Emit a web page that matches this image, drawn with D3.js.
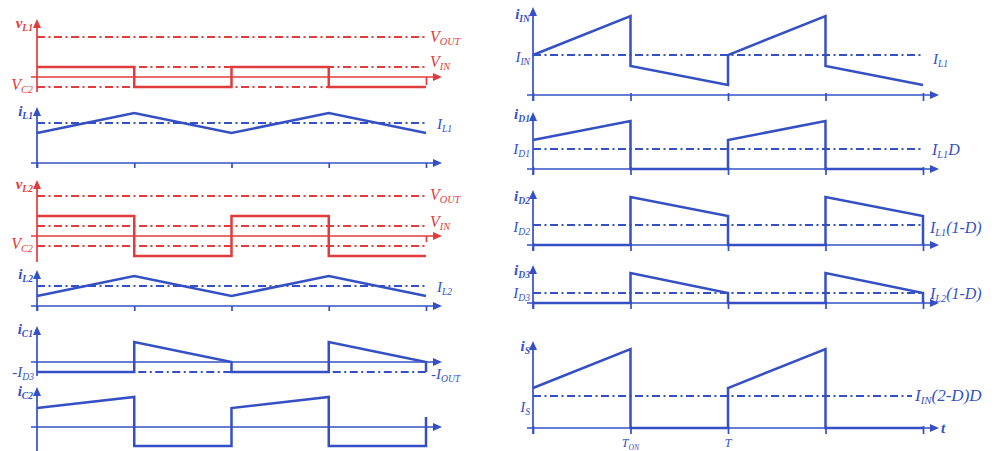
<!DOCTYPE html>
<html>
<head>
<meta charset="utf-8">
<script src="https://cdn.jsdelivr.net/npm/d3@7"></script>
<style>
  html, body { margin: 0; padding: 0; background: #fff; }
  svg { display: block; }
  text { font-family: "Liberation Serif", "DejaVu Serif", serif; font-style: italic; }
</style>
</head>
<body>
<svg id="chart" width="1000" height="451"></svg>
<script>
// ---- waveform data (time in quarter-periods, amplitude in arbitrary units) ----
const timeTicks = [0, 1, 2, 3, 4];

const vL1_t = [0, 1, 1, 2, 2, 3, 3, 4];
const vL1_v = [1, 1, -1, -1, 1, 1, -1, -1];
const vL1_refs = [4, 1, -1];

const iL1_t = [0, 1, 2, 3, 4];
const iL1_v = [3, 5, 3, 5, 3];
const iL1_refs = [4];

const vL2_t = [0, 1, 1, 2, 2, 3, 3, 4];
const vL2_v = [2, 2, -2, -2, 2, 2, -2, -2];
const vL2_refs = [4, 1, -1];

const iL2_t = [0, 1, 2, 3, 4];
const iL2_v = [1, 3, 1, 3, 1];
const iL2_refs = [2];

const iC1_t = [0, 1, 1, 2, 2, 3, 3, 4, 4];
const iC1_v = [-1, -1, 2, 0, -1, -1, 2, 0, -1];
const iC1_refs = [-1];

const iC2_t = [0, 1, 1, 2, 2, 3, 3, 4, 4];
const iC2_v = [1.9, 3, -1.9, -1.9, 1.9, 3, -1.9, -1.9, 1];

const iIN_t = [0, 1, 1, 2, 2, 3, 3, 4];
const iIN_v = [4, 7.9, 2.9, 1, 4, 7.9, 2.9, 1];
const iIN_refs = [4];

const iD1_t = [0, 1, 1, 2, 2, 3, 3, 4];
const iD1_v = [2.9, 4.8, 0, 0, 2.9, 4.8, 0, 0];
const iD1_refs = [2];

const iD2_t = [0, 1, 1, 2, 2, 3, 3, 4, 4];
const iD2_v = [0, 0, 4.8, 2.9, 0, 0, 4.8, 2.9, 0];
const iD2_refs = [2];

const iD3_t = [0, 1, 1, 2, 2, 3, 3, 4, 4];
const iD3_v = [0, 0, 3, 1, 0, 0, 3, 1, 0];
const iD3_refs = [1];

const iS_t = [0, 1, 1, 2, 2, 3, 3, 4];
const iS_v = [4, 7.9, 0, 0, 4, 7.9, 0, 0];
const iS_refs = [3.2];

const timeLabels = ["T_{ON}", "T"];

// ---- layout & styling ----
const RED = "#e03c3c";
const BLUE = "#3550c4";
const svg = d3.select("#chart");

const xLeft = d3.scaleLinear().domain([0, 4]).range([37, 426]);
const xRight = d3.scaleLinear().domain([0, 4]).range([533, 923]);

// text with "_{...}" subscripts
function richText(g, str, x, y, opts) {
  const t = g.append("text")
    .attr("x", x).attr("y", y)
    .attr("fill", opts.color)
    .attr("font-size", opts.size)
    .attr("font-weight", opts.weight || "normal")
    .attr("text-anchor", opts.anchor || "start");
  const parts = [];
  const re = /_\{([^}]*)\}/g;
  let last = 0, m;
  while ((m = re.exec(str)) !== null) {
    if (m.index > last) parts.push({ s: str.slice(last, m.index), sub: false });
    parts.push({ s: m[1], sub: true });
    last = re.lastIndex;
  }
  if (last < str.length) parts.push({ s: str.slice(last), sub: false });
  let shift = 0;
  parts.forEach(p => {
    const target = p.sub ? 3 : 0;
    const ts = t.append("tspan").text(p.s).attr("font-size", p.sub ? opts.size * 0.64 : opts.size);
    if (target !== shift) ts.attr("dy", target - shift);
    shift = target;
  });
  return t;
}

function dashRef(g, xa, xb, yy, color) {
  g.append("line")
    .attr("x1", xa).attr("x2", xb)
    .attr("y1", yy).attr("y2", yy)
    .attr("stroke", color).attr("stroke-width", 1.8)
    .attr("stroke-dasharray", "8,3.5,2,3.5");
}

function panel(cfg) {
  const { x, zeroY, unit, color, t, v, refs, yTop, yBot } = cfg;
  const y = d3.scaleLinear().domain([0, 1]).range([zeroY, zeroY - unit]);
  const g = svg.append("g");
  const x0 = x.range()[0], x1 = x.range()[1];

  // reference (dash-dot) levels
  (refs || []).forEach(r => dashRef(g, x0, cfg.refEnd || x1, y(r), color));

  // time axis with ticks
  const axis = d3.axisBottom(x).tickValues(cfg.ticks || []).tickSize(cfg.tickSize || 5)
    .tickSizeOuter(0).tickFormat("");
  const ax = g.append("g").attr("transform", `translate(0,${zeroY})`).call(axis);
  ax.select(".domain").remove();
  ax.selectAll(".tick line").attr("stroke", color).attr("stroke-width", 1.7)
    .attr("y1", cfg.tickUp ? -cfg.tickUp : 0);
  g.append("line").attr("x1", x0 - 6).attr("x2", x1 + 10)
    .attr("y1", zeroY).attr("y2", zeroY)
    .attr("stroke", color).attr("stroke-width", 1.7);
  g.append("path")
    .attr("d", `M${x1 + 16},${zeroY} L${x1 + 7},${zeroY - 4} L${x1 + 7},${zeroY + 4} Z`)
    .attr("fill", color);

  // vertical axis
  g.append("line").attr("x1", x0).attr("x2", x0)
    .attr("y1", yBot).attr("y2", yTop + 6)
    .attr("stroke", color).attr("stroke-width", 1.7);
  g.append("path")
    .attr("d", `M${x0},${yTop} L${x0 - 4},${yTop + 9} L${x0 + 4},${yTop + 9} Z`)
    .attr("fill", color);

  // waveform
  const pts = t.map((ti, i) => [x(ti), y(v[i])]);
  g.append("path")
    .attr("d", d3.line()(pts))
    .attr("fill", "none").attr("stroke", color)
    .attr("stroke-width", 2.5).attr("stroke-linejoin", "miter");

  // labels
  (cfg.labels || []).forEach(l => {
    richText(g, l.text, l.x, l.y, { color, size: l.size || 15, weight: l.weight, anchor: l.anchor });
  });
  return { g, y };
}

// ---- left column ----
panel({ x: xLeft, zeroY: 77, unit: 10, color: RED, t: vL1_t, v: vL1_v, refs: vL1_refs,
  yTop: 19, yBot: 92, ticks: [4], tickSize: 8,
  labels: [
    { text: "v_{L1}", x: 33, y: 28, anchor: "end", weight: "bold" },
    { text: "V_{OUT}", x: 430, y: 42, size: 16 },
    { text: "V_{IN}", x: 430, y: 67, size: 16 },
    { text: "V_{C2}", x: 33, y: 90, anchor: "end", size: 16 }
  ] });

panel({ x: xLeft, zeroY: 163, unit: 10, color: BLUE, t: iL1_t, v: iL1_v, refs: iL1_refs,
  yTop: 107, yBot: 168, ticks: timeTicks, tickSize: 5,
  labels: [
    { text: "i_{L1}", x: 33, y: 116, anchor: "end", weight: "bold" },
    { text: "I_{L1}", x: 437, y: 129 }
  ] });

panel({ x: xLeft, zeroY: 236, unit: 10, color: RED, t: vL2_t, v: vL2_v, refs: vL2_refs,
  yTop: 180, yBot: 262, ticks: [4], tickSize: 6,
  labels: [
    { text: "v_{L2}", x: 33, y: 189, anchor: "end", weight: "bold" },
    { text: "V_{OUT}", x: 430, y: 200, size: 16 },
    { text: "V_{IN}", x: 430, y: 227, size: 16 },
    { text: "V_{C2}", x: 33, y: 249, anchor: "end", size: 16 }
  ] });

panel({ x: xLeft, zeroY: 306, unit: 10, color: BLUE, t: iL2_t, v: iL2_v, refs: iL2_refs,
  yTop: 270, yBot: 311, ticks: timeTicks, tickSize: 5,
  labels: [
    { text: "i_{L2}", x: 33, y: 279, anchor: "end", weight: "bold" },
    { text: "I_{L2}", x: 437, y: 292 }
  ] });

// -I_OUT reference spans only the intervals where the waveform sits above it
const iC1 = panel({ x: xLeft, zeroY: 362, unit: 10, color: BLUE, t: iC1_t, v: iC1_v, refs: [],
  yTop: 326, yBot: 376, ticks: [], tickSize: 0,
  labels: [
    { text: "i_{C1}", x: 33, y: 334, anchor: "end", weight: "bold" },
    { text: "-I_{D3}", x: 34, y: 377, anchor: "end" },
    { text: "-I_{OUT}", x: 431, y: 379 }
  ] });
[[1, 2], [3, 4]].forEach(([a, b]) => {
  dashRef(iC1.g, xLeft(a) + 4, xLeft(b), iC1.y(iC1_refs[0]), BLUE);
});

panel({ x: xLeft, zeroY: 427, unit: 10, color: BLUE, t: iC2_t, v: iC2_v, refs: [],
  yTop: 387, yBot: 452, ticks: [], tickSize: 0,
  labels: [
    { text: "i_{C2}", x: 33, y: 396, anchor: "end", weight: "bold" }
  ] });

// ---- right column ----
panel({ x: xRight, zeroY: 95, unit: 10, color: BLUE, t: iIN_t, v: iIN_v, refs: iIN_refs,
  yTop: 7, yBot: 101, ticks: timeTicks, tickSize: 6, tickUp: 2, refEnd: 922,
  labels: [
    { text: "i_{IN}", x: 530, y: 19, anchor: "end", weight: "bold" },
    { text: "I_{IN}", x: 530, y: 62, anchor: "end" },
    { text: "I_{L1}", x: 933, y: 64 }
  ] });

panel({ x: xRight, zeroY: 169, unit: 10, color: BLUE, t: iD1_t, v: iD1_v, refs: iD1_refs,
  yTop: 112, yBot: 175, ticks: timeTicks, tickSize: 6, tickUp: 2, refEnd: 922,
  labels: [
    { text: "i_{D1}", x: 530, y: 119, anchor: "end", weight: "bold" },
    { text: "I_{D1}", x: 530, y: 154, anchor: "end" },
    { text: "I_{L1}D", x: 932, y: 155, size: 16 }
  ] });

panel({ x: xRight, zeroY: 245, unit: 10, color: BLUE, t: iD2_t, v: iD2_v, refs: iD2_refs,
  yTop: 190, yBot: 251, ticks: timeTicks, tickSize: 6, tickUp: 2, refEnd: 922,
  labels: [
    { text: "i_{D2}", x: 530, y: 201, anchor: "end", weight: "bold" },
    { text: "I_{D2}", x: 530, y: 232, anchor: "end" },
    { text: "I_{L1}(1-D)", x: 930, y: 233, size: 16 }
  ] });

panel({ x: xRight, zeroY: 303, unit: 10, color: BLUE, t: iD3_t, v: iD3_v, refs: iD3_refs,
  yTop: 265, yBot: 309, ticks: timeTicks, tickSize: 6, tickUp: 2, refEnd: 922,
  labels: [
    { text: "i_{D3}", x: 530, y: 275, anchor: "end", weight: "bold" },
    { text: "I_{D3}", x: 530, y: 298, anchor: "end" },
    { text: "I_{L2}(1-D)", x: 930, y: 299, size: 16 }
  ] });

const iS = panel({ x: xRight, zeroY: 428, unit: 10, color: BLUE, t: iS_t, v: iS_v, refs: iS_refs,
  yTop: 341, yBot: 434, ticks: timeTicks, tickSize: 6, tickUp: 2, refEnd: 912,
  labels: [
    { text: "i_{S}", x: 530, y: 351, anchor: "end", weight: "bold" },
    { text: "I_{S}", x: 530, y: 412, anchor: "end" },
    { text: "I_{IN}(2-D)D", x: 915, y: 401, size: 17 },
    { text: "t", x: 941, y: 433, weight: "bold" }
  ] });

// period markers under the last time axis
[xRight(1), xRight(2)].forEach((px, i) => {
  richText(iS.g, timeLabels[i], px, 447, { color: BLUE, size: 12, anchor: "middle" });
});
</script>
</body>
</html>
